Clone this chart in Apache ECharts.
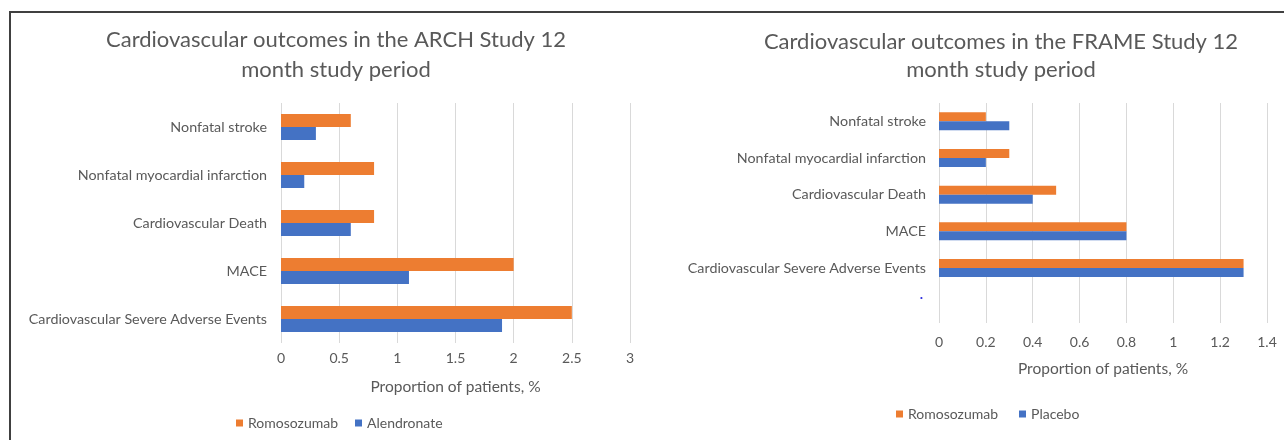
<!DOCTYPE html>
<html>
<head>
<meta charset="utf-8">
<script src="https://cdn.jsdelivr.net/npm/echarts@6/dist/echarts.min.js"></script>
<style>
  html, body { margin: 0; padding: 0; background: #fff; }
  #wrap { position: relative; width: 1284px; height: 440px; overflow: hidden; }
  #frame { position: absolute; left: 9px; top: 11px; width: 1300px; height: 500px;
           border-top: 2px solid #404040; border-left: 2px solid #404040; box-sizing: border-box; }
  #chart { position: absolute; left: 0; top: 0; width: 1284px; height: 440px; }
</style>
</head>
<body>
<div id="wrap">
  <div id="frame"></div>
  <div id="chart"></div>
</div>
<script>
// ---- Data ----
const archTitle = 'Cardiovascular outcomes in the ARCH Study 12\nmonth study period';
const frameTitle = 'Cardiovascular outcomes in the FRAME Study 12\nmonth study period';
const archCategories = ['Nonfatal stroke', 'Nonfatal myocardial infarction', 'Cardiovascular Death', 'MACE', 'Cardiovascular Severe Adverse Events'];
const archRomosozumab = [0.6, 0.8, 0.8, 2.0, 2.5];
const archAlendronate = [0.3, 0.2, 0.6, 1.1, 1.9];
const frameCategories = ['Nonfatal stroke', 'Nonfatal myocardial infarction', 'Cardiovascular Death', 'MACE', 'Cardiovascular Severe Adverse Events', '.'];
const frameRomosozumab = [0.2, 0.3, 0.5, 0.8, 1.3, null];
const framePlacebo = [0.3, 0.2, 0.4, 0.8, 1.3, null];
const axisName = 'Proportion of patients, %';
const seriesNames = ['Romosozumab', 'Alendronate', 'Placebo'];

const ORANGE = '#ED7D31', BLUE = '#4472C4', TXT = '#595959', GRID = '#D9D9D9';
const FONT = 'Lato, "Open Sans", sans-serif';

const chart = echarts.init(document.getElementById('chart'));
const option = {
  animation: false,
  textStyle: { fontFamily: FONT },
  title: [
    { text: archTitle, left: 331, top: 20, textAlign: 'center',
      textStyle: { fontFamily: FONT, fontSize: 22, fontWeight: 'normal', color: TXT, lineHeight: 30 } },
    { text: frameTitle, left: 996, top: 23, textAlign: 'center',
      textStyle: { fontFamily: FONT, fontSize: 22, fontWeight: 'normal', color: TXT, lineHeight: 28 } }
  ],
  legend: [
    { data: [seriesNames[0], seriesNames[1]], left: 231, top: 411, itemWidth: 7, itemHeight: 7, itemGap: 17,
      icon: 'rect', textStyle: { fontFamily: FONT, fontSize: 14, color: TXT } },
    { data: [seriesNames[0], seriesNames[2]], left: 891, top: 402, itemWidth: 7, itemHeight: 7, itemGap: 21,
      icon: 'rect', textStyle: { fontFamily: FONT, fontSize: 14, color: TXT } }
  ],
  grid: [
    { left: 281, top: 103, width: 349, height: 240 },
    { left: 939, top: 103, width: 328, height: 220 }
  ],
  xAxis: [
    { gridIndex: 0, type: 'value', min: 0, max: 3, interval: 0.5,
      axisLine: { show: false }, axisTick: { show: false },
      splitLine: { lineStyle: { color: GRID, width: 1 } },
      axisLabel: { color: TXT, fontSize: 14, margin: 8, fontFamily: FONT },
      name: axisName, nameLocation: 'middle', nameGap: 36,
      nameTextStyle: { color: TXT, fontSize: 15.5, fontFamily: FONT } },
    { gridIndex: 1, type: 'value', min: 0, max: 1.4, interval: 0.2,
      axisLine: { show: false }, axisTick: { show: false },
      splitLine: { lineStyle: { color: GRID, width: 1 } },
      axisLabel: { color: TXT, fontSize: 14, margin: 12, fontFamily: FONT },
      name: axisName, nameLocation: 'middle', nameGap: 38,
      nameTextStyle: { color: TXT, fontSize: 15.5, fontFamily: FONT } }
  ],
  yAxis: [
    { gridIndex: 0, type: 'category', data: archCategories, inverse: true,
      axisLine: { show: false }, axisTick: { show: false },
      axisLabel: { color: TXT, fontSize: 14.3, margin: 14, fontFamily: FONT } },
    { gridIndex: 1, type: 'category', data: frameCategories, inverse: true,
      axisLine: { show: false }, axisTick: { show: false },
      axisLabel: { color: TXT, fontSize: 14.3, margin: 13, fontFamily: FONT,
        formatter: function (v) { return v === '.' ? '{dot|' + v + '}' : v; },
        rich: { dot: { color: '#3535e0', fontSize: 14, fontWeight: 'bold', padding: [0, 3, 20, 0] } } } }
  ],
  series: [
    { name: seriesNames[0], type: 'bar', xAxisIndex: 0, yAxisIndex: 0, data: archRomosozumab,
      itemStyle: { color: ORANGE }, barWidth: 13, barGap: '0%' },
    { name: seriesNames[1], type: 'bar', xAxisIndex: 0, yAxisIndex: 0, data: archAlendronate,
      itemStyle: { color: BLUE }, barWidth: 13, barGap: '0%' },
    { name: seriesNames[0], type: 'bar', xAxisIndex: 1, yAxisIndex: 1, data: frameRomosozumab,
      itemStyle: { color: ORANGE }, barWidth: 9, barGap: '0%' },
    { name: seriesNames[2], type: 'bar', xAxisIndex: 1, yAxisIndex: 1, data: framePlacebo,
      itemStyle: { color: BLUE }, barWidth: 9, barGap: '0%' }
  ]
};
chart.setOption(option);
</script>
</body>
</html>
